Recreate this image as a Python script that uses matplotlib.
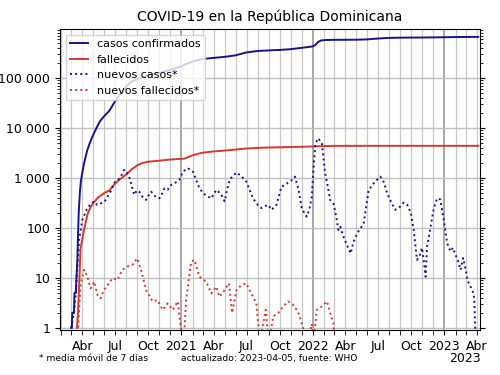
import numpy as np
import pandas as pd
import matplotlib
matplotlib.use("Agg")
import matplotlib.pyplot as plt
import matplotlib.dates as mdates
from matplotlib.ticker import FuncFormatter, LogLocator

# cumulative confirmed cases
cases_dates = ["2020-03-01", "2020-03-03", "2020-03-04", "2020-03-09", "2020-03-10", "2020-03-14",
               "2020-03-16", "2020-03-18", "2020-03-20", "2020-03-22", "2020-03-25", "2020-03-28",
               "2020-04-01", "2020-04-05", "2020-04-10", "2020-04-15", "2020-04-22", "2020-04-30",
               "2020-05-10", "2020-05-20", "2020-05-31", "2020-06-15", "2020-06-30", "2020-07-15",
               "2020-07-31", "2020-08-15", "2020-08-31", "2020-09-30", "2020-10-31", "2020-11-30",
               "2020-12-31", "2021-01-31", "2021-02-28", "2021-03-31", "2021-04-30", "2021-05-31",
               "2021-06-30", "2021-07-31", "2021-08-31", "2021-09-30", "2021-10-31", "2021-11-30",
               "2021-12-31", "2022-01-08", "2022-01-15", "2022-01-24", "2022-02-05", "2022-02-28",
               "2022-03-31", "2022-04-30", "2022-05-31", "2022-06-30", "2022-07-31", "2022-08-31",
               "2022-09-30", "2022-10-31", "2022-11-30", "2022-12-31", "2023-01-31", "2023-02-28",
               "2023-04-05"]
cases_total = [1, 1, 2, 2, 5, 5,
               11, 21, 72, 202, 488, 859,
               1284, 1828, 2620, 3614, 5044, 6972,
               9882, 13657, 16908, 22008, 33387, 46305,
               66237, 84000, 94436, 113000, 125000, 143000,
               170785, 212000, 238000, 251000, 263000, 282000,
               322000, 345000, 354000, 362000, 375000, 398000,
               425000, 455000, 520000, 560000, 572000, 576000,
               578000, 580000, 588000, 612000, 630000, 637000,
               640000, 641000, 645000, 650000, 655000, 658000,
               660000]

# cumulative deaths
deaths_dates = ["2020-03-17", "2020-03-20", "2020-03-24", "2020-03-27", "2020-04-01", "2020-04-05",
                "2020-04-10", "2020-04-15", "2020-04-22", "2020-05-01", "2020-05-15", "2020-06-01",
                "2020-06-15", "2020-07-01", "2020-07-15", "2020-08-01", "2020-08-15", "2020-09-01",
                "2020-09-15", "2020-10-01", "2020-11-01", "2020-12-01", "2021-01-01", "2021-01-10",
                "2021-02-01", "2021-03-01", "2021-04-01", "2021-05-01", "2021-06-01", "2021-07-01",
                "2021-08-01", "2021-09-01", "2021-10-01", "2021-11-01", "2021-12-01", "2022-01-01",
                "2022-02-01", "2022-03-01", "2022-04-01", "2022-07-01", "2023-04-05"]
deaths_total = [1, 2, 10, 39, 60, 86,
                126, 183, 245, 313, 409, 498,
                562, 773, 946, 1173, 1470, 1796,
                1990, 2106, 2210, 2330, 2410, 2430,
                2840, 3190, 3390, 3520, 3700, 3880,
                3980, 4060, 4100, 4150, 4200, 4250,
                4330, 4370, 4375, 4384, 4384]

# new cases, 7-day moving average
new_cases_dates = ["2020-03-01", "2020-03-08", "2020-03-13", "2020-03-18", "2020-03-23", "2020-04-01",
                   "2020-04-08", "2020-04-15", "2020-04-24", "2020-05-04", "2020-05-12", "2020-05-22",
                   "2020-06-01", "2020-06-10", "2020-06-20", "2020-06-28", "2020-07-08", "2020-07-17",
                   "2020-07-26", "2020-08-02", "2020-08-09", "2020-08-16", "2020-08-23", "2020-08-30",
                   "2020-09-06", "2020-09-15", "2020-09-25", "2020-10-02", "2020-10-09", "2020-10-20",
                   "2020-11-01", "2020-11-08", "2020-11-15", "2020-11-24", "2020-12-03", "2020-12-15",
                   "2020-12-26", "2021-01-05", "2021-01-12", "2021-01-19", "2021-01-26", "2021-02-02",
                   "2021-02-09", "2021-02-16", "2021-03-01", "2021-03-12", "2021-03-25", "2021-04-01",
                   "2021-04-08", "2021-04-15", "2021-04-22", "2021-05-01", "2021-05-08", "2021-05-15",
                   "2021-05-24", "2021-06-03", "2021-06-15", "2021-06-30", "2021-07-10", "2021-07-19",
                   "2021-07-30", "2021-08-11", "2021-08-20", "2021-08-30", "2021-09-08", "2021-09-22",
                   "2021-10-06", "2021-10-15", "2021-10-24", "2021-11-03", "2021-11-12", "2021-11-22",
                   "2021-12-01", "2021-12-08", "2021-12-15", "2021-12-22", "2021-12-29", "2022-01-03",
                   "2022-01-08", "2022-01-16", "2022-01-26", "2022-02-04", "2022-02-11", "2022-02-18",
                   "2022-02-27", "2022-03-06", "2022-03-13", "2022-03-18", "2022-03-27", "2022-04-05",
                   "2022-04-16", "2022-04-24", "2022-05-05", "2022-05-22", "2022-06-05", "2022-06-14",
                   "2022-06-23", "2022-07-07", "2022-07-15", "2022-07-26", "2022-08-06", "2022-08-18",
                   "2022-09-01", "2022-09-10", "2022-09-20", "2022-09-30", "2022-10-08", "2022-10-17",
                   "2022-10-24", "2022-10-31", "2022-11-05", "2022-11-10", "2022-11-14", "2022-11-24",
                   "2022-12-03", "2022-12-12", "2022-12-21", "2022-12-30", "2023-01-09", "2023-01-18",
                   "2023-01-25", "2023-02-01", "2023-02-08", "2023-02-15", "2023-02-22", "2023-03-01",
                   "2023-03-06", "2023-03-13", "2023-03-20", "2023-03-25", "2023-03-29"]
new_cases = [1, 2, 4.2, 15, 57, 145,
             190, 250, 300, 340, 290, 310,
             330, 420, 560, 790, 900, 1060,
             1445, 1300, 1060, 700, 460, 560,
             530, 420, 363, 450, 530, 430,
             390, 480, 620, 580, 720, 800,
             910, 1330, 1450, 1560, 1450, 1330,
             1000, 720, 500, 440, 390, 480,
             575, 520, 460, 340, 600, 910,
             1100, 1280, 1100, 850, 560, 390,
             300, 250, 270, 290, 230, 290,
             670, 720, 800, 900, 1060, 600,
             250, 200, 168, 230, 420, 1600,
             4900, 6200, 4900, 1250, 700, 363,
             310, 180, 91, 106, 67, 46,
             31, 53, 80, 123, 575, 700,
             850, 1060, 900, 500, 330, 230,
             270, 320, 290, 200, 91, 23,
             27, 40, 22, 10.6, 42, 106,
             250, 390, 370, 150, 49, 34,
             40, 29, 22, 14.5, 25, 15,
             9.1, 7, 5.75, 4, 0.5]

# new deaths, 7-day moving average
new_deaths_dates = ["2020-03-18", "2020-03-24", "2020-03-28", "2020-04-06", "2020-04-15", "2020-04-24",
                    "2020-05-04", "2020-05-13", "2020-05-22", "2020-05-31", "2020-06-10", "2020-06-24",
                    "2020-07-07", "2020-07-21", "2020-08-04", "2020-08-18", "2020-08-31", "2020-09-11",
                    "2020-09-25", "2020-10-13", "2020-10-27", "2020-11-10", "2020-11-24", "2020-12-08",
                    "2020-12-22", "2020-12-29", "2021-01-05", "2021-01-10", "2021-01-14", "2021-01-28",
                    "2021-02-06", "2021-02-20", "2021-03-11", "2021-03-25", "2021-04-08", "2021-04-17",
                    "2021-05-01", "2021-05-13", "2021-05-22", "2021-06-03", "2021-06-17", "2021-06-30",
                    "2021-07-14", "2021-07-28", "2021-08-07", "2021-08-23", "2021-09-01", "2021-09-13",
                    "2021-09-27", "2021-10-11", "2021-10-24", "2021-11-07", "2021-11-21", "2021-12-05",
                    "2021-12-19", "2021-12-29", "2022-01-02", "2022-01-12", "2022-01-26", "2022-02-09",
                    "2022-02-18", "2022-02-27", "2022-03-04"]
new_deaths = [0.5, 3, 8, 14.5, 10.6, 6.2,
              8.4, 4.6, 3.9, 5.75, 7.2, 9.9,
              9.1, 14.5, 16.9, 18.2, 24.6, 14.5,
              5.75, 3.4, 3.6, 2.3, 3.1, 2.3,
              3.4, 1.26, 0.5, 1.06, 3.6, 21,
              23, 10.6, 8.4, 4.9, 6.7, 4.2,
              5.75, 7.8, 2.0, 5.75, 7.2, 7.8,
              4.9, 3.1, 0.5, 2.3, 0.5, 1.7,
              2.0, 2.7, 3.4, 2.9, 2.1, 1.0,
              0.5, 1.2, 0.5, 2.3, 2.7, 3.4,
              2.0, 1.26, 0.5]

month_names = ["Ene", "Feb", "Mar", "Abr", "May", "Jun", "Jul", "Ago", "Sep", "Oct", "Nov", "Dic"]

blue = "#14148c"
red = "#d43a2a"

fig = plt.figure(figsize=(5, 3.75), dpi=100)
ax = fig.add_axes([0.12, 0.12, 0.84, 0.8027])

ax.plot(pd.to_datetime(cases_dates), cases_total, color=blue, lw=1.4, label="casos confirmados")
ax.plot(pd.to_datetime(deaths_dates), deaths_total, color=red, lw=1.4, label="fallecidos")
ax.plot(pd.to_datetime(new_cases_dates), new_cases, color=blue, lw=1.4, ls=":", label="nuevos casos*")
ax.plot(pd.to_datetime(new_deaths_dates), new_deaths, color=red, lw=1.4, ls=":", label="nuevos fallecidos*")

ax.set_yscale("log")
ax.set_ylim(0.91, 9.5e5)
ax.set_xlim(pd.Timestamp("2020-01-30"), pd.Timestamp("2023-04-10"))

ax.yaxis.set_major_locator(LogLocator(base=10))
ax.yaxis.set_major_formatter(FuncFormatter(lambda v, p: f"{int(round(v)):,}".replace(",", " ")))

# years as major ticks, months as minor
ax.xaxis.set_major_locator(mdates.YearLocator())
ax.xaxis.set_minor_locator(mdates.MonthLocator())
ax.xaxis.set_major_formatter(FuncFormatter(lambda v, p: str(mdates.num2date(v).year)))

def month_label(v, p):
    m = mdates.num2date(v).month
    return month_names[m - 1] if m in (4, 7, 10) else ""

ax.xaxis.set_minor_formatter(FuncFormatter(month_label))

ax.tick_params(axis="both", which="both", labelsize=9)
ax.tick_params(axis="x", which="minor", length=3.5, pad=3.5)
ax.tick_params(axis="y", which="both", right=True)

ax.grid(True, which="major", axis="x", color="#a0a0a0", lw=1.3)
ax.grid(True, which="minor", axis="x", color="#c8c8c8", lw=0.9)
ax.grid(True, which="major", axis="y", color="#c0c0c0", lw=1.0)
ax.set_axisbelow(True)

ax.set_title("COVID-19 en la República Dominicana", fontsize=10, pad=6)
ax.legend(loc="upper left", fontsize=8, framealpha=0.8, handlelength=1.6)

fig.text(0.078, 0.045, "* media móvil de 7 días", fontsize=6.6, va="center")
fig.text(0.362, 0.045, "actualizado: 2023-04-05, fuente: WHO", fontsize=6.6, va="center")
fig.text(0.962, 0.045, "2023", fontsize=9, ha="right", va="center")

fig.savefig("out.png", dpi=100)
